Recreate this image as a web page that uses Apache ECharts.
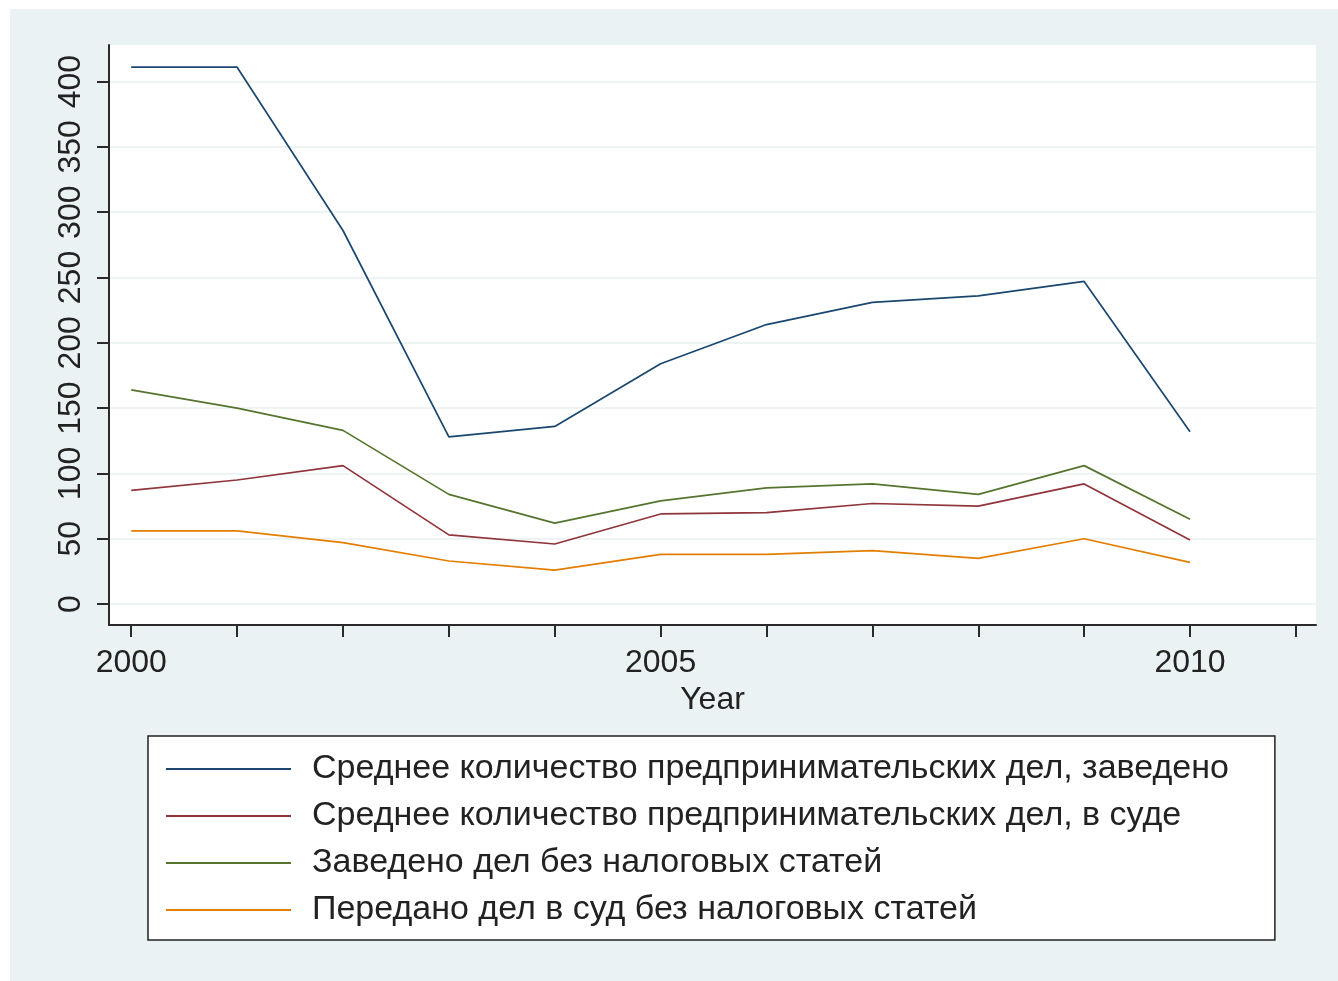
<!DOCTYPE html>
<html>
<head>
    <meta charset="UTF-8">
    <title></title>
    <style>
        html, body { margin: 0; padding: 0; background: #ffffff; }
        #container {
            position: absolute;
            left: 10px;
            top: 9px;
            width: 1328px;
            height: 972px;
        }
    </style>
</head>
<body>
    <div id="container"></div>
    <script src="https://cdn.jsdelivr.net/npm/echarts@6/dist/echarts.min.js"></script>
    <script>
        var years = [2000, 2001, 2002, 2003, 2004, 2005, 2006, 2007, 2008, 2009, 2010];
        var seriesNames = [
            'Среднее количество предпринимательских дел, заведено',
            'Среднее количество предпринимательских дел, в суде',
            'Заведено дел без налоговых статей',
            'Передано дел в суд без налоговых статей'
        ];
        var zavedeno   = [411, 411, 286, 128, 136, 184, 214, 231, 236, 247, 132];
        var vSude      = [87, 95, 106, 53, 46, 69, 70, 77, 75, 92, 49];
        var bezNalogZ  = [164, 150, 133, 84, 62, 79, 89, 92, 84, 106, 65];
        var bezNalogS  = [56, 56, 47, 33, 26, 38, 38, 41, 35, 50, 32];
        var yTicks = [0, 50, 100, 150, 200, 250, 300, 350, 400];
        var xTicks = [2000, 2001, 2002, 2003, 2004, 2005, 2006, 2007, 2008, 2009, 2010, 2011];
        var xLabels = [2000, 2005, 2010];
        var colors = ['#1a476f', '#90353b', '#55752f', '#e37e00'];

        function pairs(vals) {
            return years.map(function (y, i) { return [y, vals[i]]; });
        }

        var allData = [zavedeno, vSude, bezNalogZ, bezNalogS];
        var font = 'Liberation Sans, Arial, sans-serif';

        var myChart = echarts.init(document.getElementById('container'));
        myChart.setOption({
            backgroundColor: '#eaf2f3',
            animation: false,
            textStyle: { fontFamily: font },
            grid: {
                left: 99,
                right: 22,
                top: 36,
                bottom: 356,
                show: true,
                backgroundColor: '#ffffff',
                borderWidth: 0
            },
            legend: {
                orient: 'vertical',
                left: 138,
                top: 727,
                backgroundColor: '#ffffff',
                borderColor: '#222222',
                borderWidth: 1.5,
                borderRadius: 0,
                padding: [16, 46, 13, 17],
                itemWidth: 125,
                itemHeight: 34,
                itemGap: 13,
                itemStyle: { opacity: 0 },
                textStyle: { fontSize: 34, color: '#222222', fontFamily: font, padding: [0, 0, 0, 16] },
                data: seriesNames
            },
            xAxis: {
                type: 'value',
                min: 1999.79,
                max: 2011.19,
                name: 'Year',
                nameLocation: 'middle',
                nameGap: 57,
                nameTextStyle: { fontSize: 32, color: '#222222' },
                axisLine: { onZero: false, lineStyle: { color: '#2a2a2a', width: 2 } },
                axisTick: { customValues: xTicks, length: 12, lineStyle: { color: '#2a2a2a', width: 2 } },
                axisLabel: {
                    customValues: xLabels, fontSize: 32, color: '#222222', margin: 22,
                    formatter: function (v) { return String(v); }
                },
                splitLine: { show: false }
            },
            yAxis: {
                type: 'value',
                min: -16,
                max: 428,
                axisLine: { show: true, onZero: false, lineStyle: { color: '#2a2a2a', width: 2 } },
                axisTick: { show: true, customValues: yTicks, length: 12, lineStyle: { color: '#2a2a2a', width: 2 } },
                axisLabel: { customValues: yTicks, rotate: 90, fontSize: 32, color: '#222222', margin: 22 },
                splitLine: { show: true, lineStyle: { color: '#e9eff1', width: 1.5 } }
            },
            series: seriesNames.map(function (name, i) {
                return {
                    name: name,
                    type: 'line',
                    symbol: 'none',
                    color: colors[i],
                    lineStyle: { width: 1.7, color: colors[i] },
                    data: pairs(allData[i])
                };
            })
        });
    </script>
</body>
</html>
